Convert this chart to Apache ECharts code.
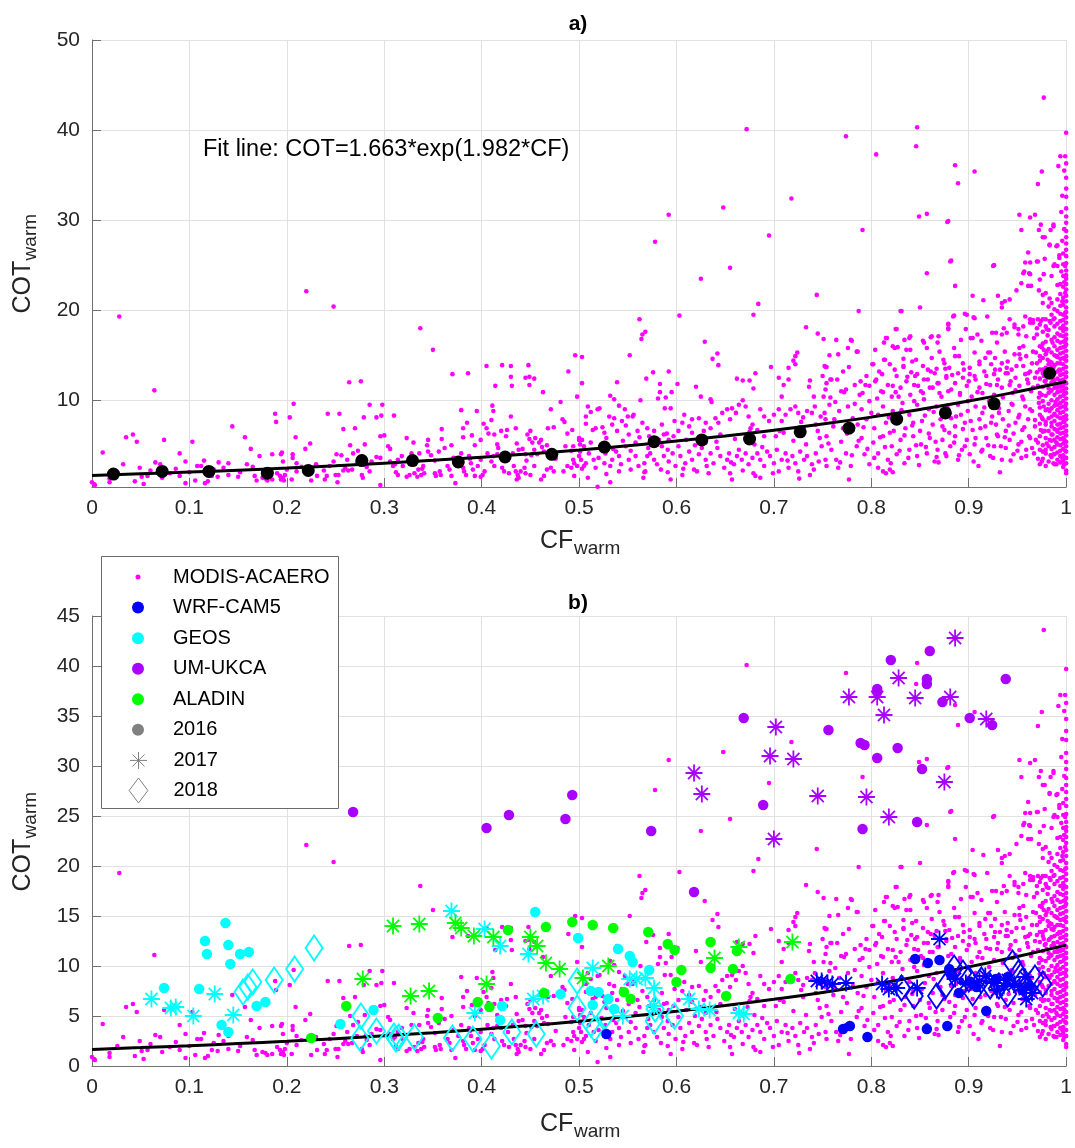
<!DOCTYPE html>
<html><head><meta charset="utf-8">
<script src="https://cdn.jsdelivr.net/npm/echarts@6/dist/echarts.min.js"></script>
<style>html,body{margin:0;padding:0;background:#fff}#c{width:1075px;height:1148px}</style>
</head><body><div id="c"></div>
<script>
// ---------- axis ticks ----------
const xTicks = [0,0.1,0.2,0.3,0.4,0.5,0.6,0.7,0.8,0.9,1];
const yTicksA = [10,20,30,40,50];
const yTicksB = [0,5,10,15,20,25,30,35,40,45];

// ---------- fit line (COT = 1.663*exp(1.982*CF)) ----------
const fitCF  = [0,0.05,0.1,0.15,0.2,0.25,0.3,0.35,0.4,0.45,0.5,0.55,0.6,0.65,0.7,0.75,0.8,0.85,0.9,0.95,1];
const fitCOT = [1.66,1.84,2.03,2.24,2.47,2.73,3.02,3.33,3.68,4.06,4.48,4.95,5.47,6.04,6.67,7.36,8.13,8.98,9.91,10.95,12.09];

// ---------- binned means (panel a) ----------
const binCF  = [0.022,0.072,0.12,0.18,0.222,0.277,0.329,0.376,0.424,0.472,0.526,0.577,0.626,0.675,0.727,0.777,0.826,0.876,0.926,0.983];
const binCOT = [1.8,2.1,2.1,1.9,2.2,3.3,3.3,3.15,3.7,4.0,4.8,5.4,5.6,5.7,6.5,6.9,7.9,8.6,9.6,13.0];

// ---------- MODIS-ACAERO points (CF, COT) ----------
const modisA = [[0.002,0.7],[0,0.9],[0.003,0.6],[0.011,4.2],[0.028,19.3],[0.032,2.9],[0.035,5.9],[0.042,6.2],[0.046,5.4],[0.044,1.0],[0.049,2.5],[0.053,0.7],[0.051,1.5],[0.057,1.6],[0.064,11.1],[0.065,3.1],[0.07,2.9],[0.074,5.6],[0.072,1.4],[0.086,2.4],[0.09,4.1],[0.096,3.2],[0.096,0.8],[0.09,1.6],[0.103,5.4],[0.106,1.1],[0.108,2.7],[0.112,2.7],[0.115,3.3],[0.116,0.8],[0.119,1.0],[0.123,1.6],[0.13,3.1],[0.129,1.5],[0.14,3.0],[0.14,1.7],[0.144,7.1],[0.15,1.5],[0.152,2.0],[0.157,5.9],[0.159,2.9],[0.163,4.6],[0.167,1.6],[0.169,1.1],[0.172,3.8],[0.175,1.4],[0.178,1.3],[0.18,1.1],[0.185,4.0],[0.185,1.2],[0.188,8.5],[0.189,7.6],[0.19,1.9],[0.194,4.0],[0.195,4.2],[0.196,3.2],[0.193,1.6],[0.196,1.4],[0.197,1.1],[0.194,1.2],[0.198,1.7],[0.2,2.3],[0.203,8.1],[0.206,4.0],[0.207,9.6],[0.209,5.9],[0.206,3.6],[0.21,3.0],[0.205,1.2],[0.21,2.1],[0.219,4.6],[0.22,22.1],[0.224,5.2],[0.225,1.1],[0.231,1.6],[0.238,2.2],[0.241,1.6],[0.239,1.2],[0.248,3.2],[0.25,1.7],[0.018,1.3],[0.026,2.0],[0.06,2.2],[0.08,1.9],[0.1,2.0],[0.125,2.3],[0.135,2.5],[0.165,2.6],[0.215,2.6],[0.23,2.9],[0.244,2.7],[0.018,0.9]];

const modisB = [[0.248,20.4],[0.337,18.0],[0.35,15.6],[0.276,12.1],[0.386,13.0],[0.421,13.9],[0.448,13.9],[0.449,12.6],[0.454,12.4],[0.431,11.6],[0.449,11.7],[0.463,10.9],[0.496,15.0],[0.503,14.8],[0.489,13.2],[0.503,11.9],[0.498,10.4],[0.254,8.5],[0.298,9.5],[0.292,8.1],[0.31,8.3],[0.27,6.9],[0.296,6.0],[0.3,6.1],[0.265,5.0],[0.251,4.0],[0.256,3.9],[0.28,5.1],[0.273,4.4],[0.268,4.1],[0.262,3.4],[0.26,2.5],[0.263,2.2],[0.258,2.2],[0.267,2.3],[0.253,1.7],[0.252,0.9],[0.277,1.7],[0.278,1.4],[0.285,2.1],[0.282,2.6],[0.281,3.0],[0.292,3.7],[0.296,3.6],[0.304,4.9],[0.306,4.6],[0.306,3.2],[0.309,2.7],[0.312,2.0],[0.314,1.7],[0.319,2.7],[0.323,5.8],[0.296,0.6],[0.323,1.5],[0.326,1.7],[0.331,1.9],[0.335,2.3],[0.334,1.5],[0.338,1.7],[0.341,1.9],[0.33,5.3],[0.336,4.1],[0.34,2.7],[0.339,2.4],[0.345,5.6],[0.344,5.0],[0.345,4.3],[0.348,3.9],[0.352,1.9],[0.353,1.6],[0.357,2.1],[0.358,1.7],[0.359,6.8],[0.359,5.7],[0.362,4.7],[0.369,5.0],[0.369,1.6],[0.373,0.8],[0.365,2.7],[0.367,2.3],[0.381,6.9],[0.381,5.9],[0.379,4.1],[0.381,2.5],[0.382,2.1],[0.384,1.7],[0.39,6.1],[0.393,5.0],[0.395,8.8],[0.387,3.8],[0.389,3.0],[0.391,2.3],[0.393,1.6],[0.396,2.7],[0.399,3.4],[0.399,5.6],[0.399,1.5],[0.401,1.7],[0.403,2.1],[0.402,7.4],[0.405,6.9],[0.41,7.8],[0.412,8.8],[0.411,9.4],[0.407,6.3],[0.413,6.2],[0.416,5.1],[0.42,6.6],[0.426,6.7],[0.425,6.0],[0.43,8.2],[0.435,6.9],[0.406,4.1],[0.416,4.0],[0.41,3.2],[0.413,2.7],[0.42,3.8],[0.421,2.5],[0.423,2.1],[0.427,3.4],[0.428,1.9],[0.433,2.7],[0.435,2.1],[0.437,1.7],[0.438,1.4],[0.436,1.2],[0.44,2.1],[0.444,2.5],[0.436,5.2],[0.438,4.5],[0.442,4.6],[0.445,4.0],[0.447,6.2],[0.449,5.7],[0.45,6.6],[0.452,5.3],[0.454,4.5],[0.455,5.8],[0.457,4.0],[0.459,5.3],[0.461,5.6],[0.462,4.8],[0.464,4.3],[0.467,5.0],[0.468,6.9],[0.474,7.0],[0.471,9.0],[0.481,9.8],[0.483,7.9],[0.485,7.6],[0.488,6.3],[0.493,6.7],[0.494,4.9],[0.5,5.8],[0.503,5.6],[0.501,5.1],[0.501,4.3],[0.498,2.7],[0.502,3.4],[0.495,3.0],[0.5,3.8],[0.445,1.9],[0.45,1.7],[0.454,2.7],[0.461,1.2],[0.464,1.6],[0.467,2.3],[0.471,2.5],[0.474,2.1],[0.484,2.1],[0.488,2.7],[0.492,2.5],[0.495,1.6],[0.503,2.4],[0.494,3.4],[0.318,3.8],[0.328,4.1],[0.314,3.4],[0.264,12.0],[0.37,12.9],[0.297,8.3],[0.285,9.5],[0.242,8.5],[0.279,8.1],[0.258,6.8],[0.379,8.9],[0.385,7.5],[0.405,13.8],[0.414,11.6],[0.43,13.8],[0.43,12.6],[0.445,12.5],[0.272,3.0],[0.287,3.2],[0.311,2.9],[0.352,3.3],[0.371,3.6],[0.388,3.5],[0.412,3.8],[0.432,4.1],[0.451,3.9],[0.468,4.2],[0.492,4.4],[0.356,4.3],[0.376,3.0],[0.417,4.7],[0.446,3.3],[0.476,3.5],[0.486,4.9]];

const modisC = [[0.684,20.7],[0.679,19.5],[0.603,19.4],[0.562,19.0],[0.565,17.3],[0.568,17.6],[0.564,16.8],[0.733,18.1],[0.745,17.4],[0.751,16.8],[0.629,16.5],[0.552,15.0],[0.642,15.2],[0.637,14.6],[0.643,13.9],[0.724,15.3],[0.722,14.9],[0.72,14.4],[0.722,14.0],[0.715,13.6],[0.705,12.5],[0.71,11.7],[0.715,12.3],[0.708,10.4],[0.681,13.0],[0.697,13.7],[0.662,12.4],[0.668,12.2],[0.675,12.2],[0.679,11.3],[0.576,13.1],[0.569,12.4],[0.592,13.2],[0.583,11.8],[0.583,10.9],[0.581,10.2],[0.589,10.3],[0.595,10.9],[0.601,11.8],[0.588,9.1],[0.594,9.1],[0.539,12.0],[0.563,10.0],[0.62,11.5],[0.625,10.4],[0.635,10.1],[0.636,9.8],[0.753,13.7],[0.751,10.4],[0.754,11.9],[0.753,11.2],[0.737,12.2],[0.736,11.5],[0.741,10.4],[0.742,9.3],
[0.672,40.1],[0.648,31.4],[0.592,30.6],[0.578,27.6],[0.695,28.3],[0.655,24.7],[0.625,23.5],[0.718,32.4],[0.744,21.7],
[0.509,9.3],[0.512,8.7],[0.519,9.0],[0.521,9.1],[0.532,10.5],[0.536,10.1],[0.541,9.4],[0.547,9.0],[0.531,8.2],[0.536,8.0],[0.544,7.7],[0.55,8.2],[0.555,8.2],[0.556,8.4],[0.507,8.2],[0.507,7.4],[0.514,6.7],[0.517,6.9],[0.524,7.0],[0.526,6.4],[0.534,7.3],[0.539,6.6],[0.548,7.2],[0.551,6.2],[0.56,6.6],[0.558,5.3],[0.565,7.5],[0.57,6.9],[0.572,6.0],[0.577,6.6],[0.585,7.3],[0.587,6.2],[0.592,5.6],[0.597,6.0],[0.602,6.6],[0.606,7.5],[0.608,8.4],[0.613,7.1],[0.616,7.9],[0.623,8.0],[0.63,7.5],[0.628,6.6],[0.635,6.9],[0.64,8.0],[0.643,7.5],[0.647,8.6],[0.652,9.0],[0.657,9.1],[0.661,8.6],[0.664,9.5],[0.668,10.0],[0.671,9.3],[0.674,8.2],[0.678,7.3],[0.683,6.7],[0.686,9.0],[0.69,8.2],[0.695,7.7],[0.7,8.4],[0.705,9.0],[0.708,7.7],[0.712,8.4],[0.717,9.0],[0.722,9.3],[0.725,8.6],[0.73,8.1],[0.734,8.8],[0.739,8.6],[0.743,7.3],[0.748,8.2],[0.753,7.9],
[0.5,5.6],[0.505,4.9],[0.51,4.1],[0.507,3.0],[0.505,2.7],[0.515,3.4],[0.517,2.5],[0.52,3.6],[0.526,3.0],[0.527,4.1],[0.532,2.7],[0.534,3.4],[0.538,4.3],[0.541,3.8],[0.543,2.9],[0.548,4.9],[0.551,3.4],[0.553,2.3],[0.558,3.8],[0.561,2.7],[0.567,3.0],[0.568,2.1],[0.57,3.8],[0.573,4.1],[0.577,3.4],[0.58,2.9],[0.584,2.3],[0.587,3.8],[0.591,4.5],[0.592,3.2],[0.596,4.1],[0.599,2.7],[0.602,4.9],[0.604,3.8],[0.606,1.7],[0.609,3.0],[0.613,4.3],[0.616,3.4],[0.618,2.3],[0.621,2.1],[0.623,4.0],[0.626,4.7],[0.63,3.4],[0.631,2.7],[0.635,4.1],[0.638,3.0],[0.642,4.7],[0.645,3.8],[0.649,2.5],[0.652,3.4],[0.654,4.1],[0.655,1.9],[0.657,1.2],[0.659,2.9],[0.662,3.8],[0.664,4.5],[0.667,3.4],[0.671,4.1],[0.674,2.9],[0.678,3.6],[0.679,1.9],[0.681,1.6],[0.686,1.4],[0.683,4.1],[0.686,3.4],[0.69,2.7],[0.693,4.3],[0.696,3.8],[0.7,3.0],[0.703,4.5],[0.705,2.1],[0.708,3.4],[0.712,4.1],[0.715,2.5],[0.719,3.8],[0.722,3.0],[0.725,2.1],[0.727,4.3],[0.731,3.4],[0.734,3.8],[0.737,1.7],[0.739,2.9],[0.743,4.1],[0.746,3.2],[0.749,4.9],[0.753,3.4],[0.754,2.7],[0.519,0.4],[0.532,0.9],[0.567,2.0],[0.591,2.0],
[0.512,5.3],[0.528,5.8],[0.545,5.5],[0.562,5.9],[0.575,5.2],[0.59,6.3],[0.61,5.6],[0.625,5.9],[0.645,6.2],[0.66,5.7],[0.675,6.5],[0.69,6.0],[0.71,6.4],[0.73,6.9],[0.745,6.6],[0.535,4.6],[0.585,4.9],[0.63,5.3],[0.68,5.1],[0.72,5.5],
[0.553,4.4],[0.566,1.4],[0.582,5.6],[0.594,1.2],[0.607,2.4],[0.619,5.0],[0.633,1.9],[0.641,5.4],[0.656,3.1],[0.668,2.2],[0.673,5.9],[0.688,4.8],[0.699,1.9],[0.702,6.0],[0.714,3.3],[0.726,1.3],[0.733,5.1],[0.741,2.3],[0.747,5.8],[0.616,6.4],[0.598,7.7],[0.655,7.9],[0.676,6.9],[0.706,6.6],[0.728,7.6],[0.571,4.7],[0.528,1.8],[0.541,2.1],[0.509,1.4],[0.523,4.8]];

const modisD = [[0.977,43.6],[1.0,39.7],[0.994,37.1],[0.999,37.1],[1.0,36.3],[0.992,36.0],[0.975,35.4],[1.0,34.7],[0.971,34.0],[0.996,32.7],[0.774,39.3],[0.847,40.3],[0.846,38.2],[0.805,37.3],[0.886,36.1],[0.906,35.4],[0.889,34.1],[0.849,30.4],[0.857,30.7],[0.791,28.9],[0.878,29.8],[0.952,30.6],[0.954,28.9],[0.963,30.3],[0.968,30.6],[0.974,29.5],[0.972,28.9],[0.984,28.9],[0.987,29.3],[1.0,29.7],[1.0,28.8],[0.978,28.1],[0.983,27.2],[0.991,27.2],[0.961,26.4],[0.971,25.4],[0.978,25.7],[0.993,25.8],[1.0,26.7],[1.0,27.4],[1.0,28.1],[0.881,25.4],[0.925,24.9],[0.958,25.3],[0.963,25.3],[0.857,24.1],[0.957,24.3],[0.962,24.1],[0.987,24.9],[0.991,24.9],[0.977,24.0],[0.985,23.8],[0.995,24.3],[1.0,23.9],
[0.879,29.9],[0.882,25.5],[0.886,22.7],[0.926,25.0],[0.97,25.4],[0.976,28.1],[0.987,29.5],[0.983,27.3],[0.99,27.1],[0.993,26.1],[0.997,25.1],[0.988,25.1],[0.964,22.7],[0.973,23.4],[0.949,22.2],[0.942,21.2],[0.937,21.0],[0.93,21.6],[0.915,21.1],[0.904,21.6],[0.934,20.3],
[0.934,20.8],[0.954,23.0],[0.961,22.7],[0.963,24.0],[0.956,24.1],[0.972,22.2],[0.976,21.7],[0.983,21.3],[0.985,20.8],[0.85,20.3],[0.83,19.9],[0.764,16.7],[0.78,16.6],[0.825,17.9],[0.816,16.9],[0.813,16.4],[0.827,15.9],[0.804,15.6],[0.834,16.7],[0.84,17.1],[0.854,16.4],[0.861,17.0],[0.869,17.1],[0.879,18.4],[0.879,17.9],[0.885,19.4],[0.896,19.6],[0.905,19.2],[0.897,17.9],[0.904,16.9],[0.913,16.6],[0.924,17.5],[0.929,16.4],[0.936,18.0],[0.942,19.0],[0.947,18.4],[0.951,17.3],[0.958,19.3],[0.963,18.6],[0.966,18.9],[0.97,18.0],[0.974,18.8],[0.979,19.0],[0.984,18.6],
[0.754,13.7],[0.758,12.3],[0.765,12.3],[0.769,11.0],[0.758,10.3],[0.777,13.7],[0.786,15.4],[0.794,11.7],[0.802,14.0],[0.791,10.8],[0.804,12.1],[0.808,13.2],[0.813,14.5],[0.819,14.0],[0.824,13.4],[0.812,10.9],[0.822,11.6],[0.828,10.4],[0.833,13.7],[0.833,14.6],[0.84,15.6],[0.842,14.3],[0.844,11.7],[0.847,12.9],[0.854,12.3],[0.851,11.0],[0.858,13.4],[0.86,11.4],[0.865,13.0],[0.869,11.9],[0.874,14.5],[0.876,13.5],[0.877,12.5],[0.879,11.0],[0.885,15.8],[0.89,14.9],[0.895,13.4],[0.901,12.9],[0.906,12.7],[0.911,14.0],[0.917,14.7],[0.922,15.3],[0.927,13.4],[0.929,11.7],[0.934,14.1],[0.94,13.0],[0.943,12.1],[0.949,13.8],[0.952,15.1],[0.956,16.0],[0.961,13.0],[0.965,14.1],[0.969,15.3],[0.973,13.4],[0.977,15.6],[0.981,14.5],[0.983,12.7],[0.986,16.4],[0.99,14.9],[0.993,13.4],[0.995,11.6],[0.999,16.0],
[0.787,19.9],[0.831,19.9],[0.826,17.9],[0.879,18.5],[0.884,19.3],[0.898,19.5],[0.906,19.1],[0.919,19.3],[0.928,17.5],[0.934,17.3],[0.939,17.5],[0.947,18.1],[0.951,17.9],[0.956,18.2],[0.963,19.0],[0.966,18.6],[0.971,19.0],[0.976,19.0],[0.98,17.9],[0.983,18.8],[0.987,19.0],[0.97,17.3],[0.959,17.1],[0.879,18.0],[0.892,16.7],[0.902,16.9],[0.909,17.3],[0.853,16.6],[0.862,17.1],[0.868,16.4],[0.839,16.9],[0.822,16.0],[0.815,16.9],[0.779,16.7],[0.776,15.8],[0.785,15.4],[0.757,15.0],
[0.752,13.8],[0.766,15.1],[0.795,12.7],[0.801,14.0],[0.814,14.5],[0.824,15.8],[0.833,13.8],[0.836,15.6],[0.841,13.1],[0.846,14.5],[0.853,13.8],[0.857,15.8],[0.862,14.7],[0.867,13.5],[0.87,15.4],[0.875,14.1],[0.88,13.6],[0.886,14.9],[0.889,13.0],[0.894,14.1],[0.901,13.6],[0.906,15.3],[0.911,14.3],[0.916,13.2],[0.92,15.3],[0.923,14.0],[0.927,14.7],[0.932,13.4],[0.937,15.4],[0.94,14.3],[0.944,13.4],[0.947,15.1],[0.952,15.8],[0.956,13.8],[0.959,14.9],[0.963,13.2],[0.966,15.4],[0.97,14.1],[0.973,14.9],[0.976,13.4],[0.98,15.4],[0.983,14.3],[0.987,13.6],[0.99,14.9],
[0.75,12.7],[0.759,12.3],[0.771,13.2],[0.774,11.2],[0.783,11.7],[0.788,10.6],[0.798,11.6],[0.805,12.3],[0.81,11.0],[0.817,11.7],[0.821,10.4],[0.826,12.7],[0.83,11.4],[0.836,12.1],[0.84,10.6],[0.845,12.7],[0.848,11.6],[0.853,10.8],[0.858,12.3],[0.863,11.4],[0.868,11.9],[0.872,10.4],[0.877,12.7],[0.882,11.2],[0.886,11.9],[0.891,10.8],[0.894,12.5],[0.898,11.6],[0.903,10.4],[0.907,12.3],[0.911,11.4],[0.914,10.8],[0.918,12.7],[0.922,11.7],[0.926,10.6],[0.93,12.3],[0.934,11.4],[0.938,13.0],[0.942,11.7],[0.945,10.8],[0.948,12.5],[0.952,11.6],[0.955,10.4],[0.958,12.9],[0.961,11.9],[0.964,11.0],[0.968,12.5],[0.971,11.6],[0.975,10.6],[0.977,12.7],[0.98,11.7],[0.984,11.0],[0.987,12.3],[0.991,11.4],
[0.752,8.6],[0.757,9.5],[0.762,7.9],[0.767,8.8],[0.771,6.9],[0.776,9.3],[0.781,8.0],[0.786,7.3],[0.79,9.0],[0.795,7.9],[0.798,9.9],[0.803,6.9],[0.807,8.4],[0.812,9.3],[0.815,7.5],[0.819,6.4],[0.822,8.8],[0.827,7.9],[0.832,9.7],[0.835,6.9],[0.839,8.4],[0.843,7.5],[0.847,9.5],[0.85,6.6],[0.855,8.3],[0.859,9.0],[0.863,7.3],[0.867,9.3],[0.871,7.9],[0.875,6.7],[0.879,9.0],[0.882,8.0],[0.886,7.1],[0.889,9.5],[0.892,8.4],[0.896,7.5],[0.899,8.8],[0.904,6.7],[0.907,9.3],[0.911,7.9],[0.914,8.6],[0.917,7.1],[0.921,9.9],[0.924,8.2],[0.928,7.3],[0.931,9.1],[0.935,7.9],[0.938,6.6],[0.941,8.8],[0.945,9.5],[0.948,7.5],[0.952,8.4],[0.955,6.7],[0.958,9.3],[0.961,7.9],[0.965,8.8],[0.968,7.1],[0.972,9.7],[0.975,8.1],[0.978,6.6],[0.981,9.0],[0.985,7.5],[0.988,8.4],[0.991,6.7],
[0.754,6.0],[0.759,4.5],[0.764,3.4],[0.769,5.4],[0.774,4.1],[0.779,2.7],[0.785,4.9],[0.79,5.8],[0.793,4.0],[0.798,2.9],[0.802,5.3],[0.807,4.1],[0.812,6.0],[0.817,3.4],[0.821,4.9],[0.826,4.0],[0.83,5.6],[0.834,3.0],[0.839,4.5],[0.843,6.0],[0.847,3.8],[0.851,5.1],[0.857,4.1],[0.86,5.8],[0.865,3.2],[0.868,4.5],[0.873,5.6],[0.877,3.8],[0.881,4.9],[0.886,6.0],[0.889,3.4],[0.893,4.5],[0.898,5.6],[0.901,4.0],[0.906,5.1],[0.91,2.7],[0.914,4.5],[0.918,5.8],[0.922,3.8],[0.926,4.9],[0.93,6.0],[0.934,3.4],[0.938,4.7],[0.942,5.6],[0.946,4.0],[0.951,5.1],[0.954,3.6],[0.959,4.5],[0.963,5.8],[0.967,4.1],[0.971,5.3],[0.975,3.2],[0.979,4.5],[0.983,5.6],[0.987,4.0],[0.99,2.9],
[0.766,2.5],[0.807,2.5],[0.812,2.1],[0.815,1.9],[0.822,2.0],[0.777,1.2],[0.932,2.0],[0.819,2.3],[0.867,3.7],[0.997,3.8],[0.987,3.0]];

const modisE = [[0.756,5.2],[0.761,7.1],[0.763,9.8],[0.768,3.1],[0.772,10.9],[0.775,6.3],[0.78,3.9],[0.783,9.6],[0.787,5.5],[0.789,12.1],[0.792,7.0],[0.796,4.6],[0.8,8.6],[0.803,3.6],[0.806,10.2],[0.809,5.9],[0.811,12.9],[0.814,4.8],[0.818,8.1],[0.82,3.0],[0.823,6.6],[0.825,10.9],[0.829,4.4],[0.831,8.9],[0.834,6.1],[0.837,12.6],[0.838,3.6],[0.842,7.2],[0.844,9.9],[0.846,5.0],[0.849,2.8],[0.852,7.7],[0.854,10.1],[0.856,4.8],[0.859,6.3],[0.861,13.2],[0.864,8.7],[0.866,5.4],[0.869,3.1],[0.87,10.8],[0.873,7.1],[0.876,4.1],[0.878,9.4],[0.88,6.4],[0.883,12.8],[0.885,5.3],[0.887,8.2],[0.89,3.9],[0.891,10.6],[0.894,6.8],[0.896,4.9],[0.899,9.9],[0.9,12.1],[0.902,7.7],[0.905,3.2],[0.907,5.8],[0.909,10.9],[0.912,6.9],[0.913,4.3],[0.916,9.2],[0.918,11.8],[0.92,5.0],[0.923,7.5],[0.925,3.6],[0.926,12.9],[0.929,6.2],[0.931,8.6],[0.933,4.9],[0.935,10.3],[0.937,5.9],[0.939,13.6],[0.941,7.2],[0.943,3.3],[0.944,9.6],[0.946,6.3],[0.948,11.1],[0.95,4.4],[0.951,8.1],[0.953,14.6],[0.954,5.4],[0.956,10.1],[0.957,7.0],[0.959,3.8],[0.96,12.3],[0.962,6.0],[0.963,9.0],[0.965,4.7],[0.966,11.4],[0.967,16.9],[0.968,7.8],[0.969,5.6],[0.97,13.1],[0.971,3.5],[0.972,10.3],[0.973,8.4],[0.974,6.7],[0.975,15.9],[0.976,4.3],[0.977,9.3],[0.978,12.1],[0.979,7.3],[0.98,5.2],[0.981,17.2],[0.982,10.8],[0.983,8.8],[0.984,3.9],[0.985,13.7],[0.986,6.2],[0.987,11.9],[0.988,19.1],[0.989,9.8],[0.99,5.3]];

// dense column at CF close to 1
const modisEdge = [[1.0,2.2],[1.0,3.0],[1.0,3.6],[1.0,4.3],[1.0,4.9],[1.0,5.4],[1.0,6.1],[1.0,6.6],[1.0,7.2],[1.0,7.9],[1.0,8.3],[1.0,9.0],[1.0,9.6],[1.0,10.2],[1.0,10.8],[1.0,11.3],[1.0,11.9],[1.0,12.6],[1.0,13.1],[1.0,13.7],[1.0,14.4],[1.0,14.9],[1.0,15.5],[1.0,16.2],[1.0,16.8],[1.0,17.3],[1.0,17.9],[1.0,18.6],[1.0,19.2],[1.0,19.8],[1.0,20.3],[1.0,21.0],[1.0,21.6],[1.0,22.3],[1.0,22.9],[1.0,23.5],[1.0,24.4],[1.0,25.2],[1.0,26.0],[1.0,31.3],[1.0,32.6],[1.0,30.4],[1.0,33.5],[1.0,1.9],
[0.998,29.0],[0.996,27.7],[0.999,24.9],[0.995,30.9],[0.998,35.5],[0.999,21.9],[0.996,21.0],[0.998,18.0],[0.999,12.0],[0.998,7.6],[0.999,4.4],[0.998,2.9],[0.996,3.6],[0.998,14.6],[0.999,9.3],[0.998,5.6],[0.999,16.6],[0.998,23.1],[0.999,19.7],[0.998,10.7],
[0.997,2.6],[0.997,3.3],[0.997,3.9],[0.997,4.6],[0.997,5.2],[0.997,5.8],[0.997,6.4],[0.997,7.0],[0.997,7.6],[0.997,8.1],[0.997,8.7],[0.997,9.3],[0.997,9.9],[0.997,10.5],[0.997,11.1],[0.997,11.6],[0.997,12.3],[0.997,12.9],[0.997,13.5],[0.997,14.0],[0.997,14.7],[0.997,15.3],[0.997,15.9],[0.997,16.5],[0.997,17.1],[0.997,17.7],[0.997,18.3],[0.997,18.9],[0.997,19.5],[0.997,20.6],[0.997,21.4],[0.997,22.6],[0.997,23.8],[0.997,26.3],
[0.994,3.1],[0.994,3.8],[0.994,4.4],[0.994,5.0],[0.994,5.7],[0.994,6.3],[0.994,6.9],[0.994,7.4],[0.994,8.0],[0.994,8.6],[0.994,9.2],[0.994,9.7],[0.994,10.4],[0.994,11.0],[0.994,11.5],[0.994,12.2],[0.994,12.8],[0.994,13.3],[0.994,14.1],[0.994,14.6],[0.994,15.2],[0.994,15.8],[0.994,16.4],[0.994,17.2],[0.994,18.0],[0.994,18.8],[0.994,19.6],[0.994,20.5],[0.994,21.8],[0.994,22.9],
[0.991,3.4],[0.991,4.2],[0.991,5.1],[0.991,5.9],[0.991,6.5],[0.991,7.3],[0.991,8.2],[0.991,8.9],[0.991,9.5],[0.991,10.1],[0.991,10.9],[0.991,11.7],[0.991,12.4],[0.991,13.2],[0.991,14.1],[0.991,14.8],[0.991,15.6],[0.991,16.6],[0.991,17.4],[0.991,18.5],[0.991,19.9],[0.991,21.2],[0.991,22.8],
[0.988,2.9],[0.988,4.0],[0.988,4.8],[0.988,5.6],[0.988,6.8],[0.988,7.7],[0.988,8.5],[0.988,9.4],[0.988,10.6],[0.988,11.4],[0.988,12.0],[0.988,13.0],[0.988,13.9],[0.988,15.0],[0.988,16.0],[0.988,17.0],[0.988,18.2],[0.988,20.1],
[0.985,3.7],[0.985,4.6],[0.985,5.5],[0.985,6.2],[0.985,7.1],[0.985,8.2],[0.985,9.1],[0.985,10.0],[0.985,11.1],[0.985,12.0],[0.985,12.9],[0.985,14.2],[0.985,15.3],[0.985,16.7],[0.985,19.5],
[0.982,3.2],[0.982,4.9],[0.982,6.6],[0.982,8.0],[0.982,9.6],[0.982,11.3],[0.982,12.6],[0.982,14.0],[0.982,15.7],[0.982,17.8],[0.982,20.4],
[0.979,2.7],[0.979,4.1],[0.979,5.8],[0.979,7.6],[0.979,8.9],[0.979,10.5],[0.979,12.2],[0.979,13.6],[0.979,15.1],[0.979,16.5],[0.979,18.2],[0.979,21.9],
[0.976,3.5],[0.976,5.0],[0.976,6.5],[0.976,7.9],[0.976,9.9],[0.976,11.5],[0.976,13.0],[0.976,14.7],[0.976,16.3],[0.976,17.6],[0.976,20.8],
[0.973,2.9],[0.973,4.5],[0.973,6.0],[0.973,7.4],[0.973,9.2],[0.973,10.8],[0.973,12.4],[0.973,14.4],[0.973,16.0],[0.973,18.4]];

// ---------- model points (panel b) ----------
const wrf2016 = [[0.528,3.2],[0.771,3.7],[0.778,4.0],[0.796,2.9],[0.845,10.7],[0.858,10.3],[0.87,10.6],[0.857,3.7],[0.878,4.0],[0.918,5.5],[0.89,7.3],[0.88,9.7],[0.883,9.1],[0.902,8.4],[0.94,8.9],[0.955,7.6],[0.908,7.9],[0.928,8.7],[0.962,8.0]];
const wrf2017 = [[0.744,8.5],[0.749,8.5],[0.755,8.3],[0.76,8.2],[0.774,8.3],[0.811,8.2],[0.818,7.7],[0.826,7.8],[0.847,7.8],[0.87,12.7],[0.886,8.7],[0.897,8.3],[0.911,8.5],[0.926,8.3],[0.936,8.0],[0.947,8.2],[0.959,6.7],[0.965,7.3],[0.94,8.6],[0.952,7.9],[0.958,8.9],[0.929,7.6],[0.917,9.0]];
const wrf2018 = [[0.831,7.8],[0.844,7.0],[0.867,7.0],[0.885,9.8],[0.894,9.3],[0.904,7.3],[0.922,8.0],[0.931,8.0],[0.945,10.3],[0.951,9.3],[0.961,7.7],[0.976,8.2],[0.968,8.8],[0.876,8.0],[0.9,8.7],[0.955,8.5],[0.94,7.2],[0.913,8.6]];
const geos2016 = [[0.137,14.3],[0.116,12.5],[0.118,11.2],[0.14,12.1],[0.142,10.2],[0.152,11.2],[0.161,11.4],[0.074,7.8],[0.11,7.7],[0.169,6.0],[0.178,6.4],[0.133,4.1],[0.14,3.4],[0.255,4.2],[0.289,5.6],[0.421,6.0],[0.419,4.6],[0.455,15.4],[0.499,12.8],[0.54,11.7],[0.552,11.0],[0.555,10.4],[0.572,9.6],[0.481,7.2],[0.512,7.5],[0.52,7.4],[0.53,6.7],[0.514,6.1],[0.536,5.7]];
const geos2017 = [[0.061,6.7],[0.081,5.8],[0.086,5.9],[0.104,5.0],[0.126,7.2],[0.145,5.1],[0.369,15.5],[0.393,5.3],[0.403,13.7],[0.419,12.0],[0.448,11.2],[0.453,6.7],[0.463,7.0],[0.514,9.8],[0.552,8.7],[0.559,8.7],[0.568,8.8],[0.577,7.8],[0.545,5.0],[0.577,6.0],[0.613,6.7],[0.623,5.7],[0.634,5.6],[0.664,5.3],[0.669,5.2]];
const geos2018 = [[0.155,7.4],[0.16,7.9],[0.165,8.4],[0.187,8.6],[0.208,9.7],[0.228,11.8],[0.276,5.0],[0.275,2.8],[0.292,3.5],[0.31,3.0],[0.312,2.7],[0.315,2.9],[0.331,2.9],[0.37,2.8],[0.391,2.7],[0.41,2.0],[0.431,3.4],[0.456,3.2],[0.498,8.5],[0.498,5.8],[0.512,4.2],[0.516,3.7],[0.527,5.0],[0.577,4.5],[0.578,5.7],[0.598,5.0]];
const um2016 = [[0.268,25.4],[0.405,23.8],[0.428,25.1],[0.486,24.7],[0.493,27.1],[0.574,23.5],[0.689,26.1],[0.791,23.7],[0.847,24.4],[0.618,17.4],[0.669,34.8],[0.756,33.6],[0.789,32.3],[0.793,32.1],[0.806,30.8],[0.827,31.8],[0.82,40.6],[0.806,37.7],[0.806,37.4],[0.86,41.5],[0.857,38.7],[0.857,38.2],[0.873,36.4],[0.938,38.7],[0.901,34.8],[0.924,34.1],[0.852,29.7]];
const um2017 = [[0.618,29.3],[0.626,27.2],[0.702,33.9],[0.696,31.0],[0.72,30.7],[0.745,27.0],[0.777,36.9],[0.806,36.9],[0.813,35.1],[0.828,38.8],[0.845,36.8],[0.881,36.9],[0.886,42.8],[0.918,34.7],[0.875,28.4],[0.795,26.9],[0.818,24.9],[0.7,22.7]];
const aladin2016 = [[0.225,2.8],[0.261,6.0],[0.355,4.8],[0.396,6.4],[0.408,5.9],[0.427,13.6],[0.493,14.4],[0.514,14.1],[0.535,13.8],[0.466,13.9],[0.571,13.4],[0.591,12.2],[0.598,11.6],[0.635,12.4],[0.662,11.5],[0.605,9.6],[0.635,9.8],[0.658,9.7],[0.6,8.4],[0.546,7.4],[0.553,6.7],[0.651,7.0],[0.717,8.7],[0.464,7.3]];
const aladin2017 = [[0.278,8.7],[0.309,14.0],[0.336,14.2],[0.327,7.0],[0.346,7.5],[0.373,14.3],[0.379,13.8],[0.392,13.0],[0.412,12.9],[0.405,8.2],[0.45,12.9],[0.457,12.0],[0.466,10.3],[0.48,9.7],[0.504,8.8],[0.53,10.0],[0.639,10.8],[0.664,11.9],[0.719,12.4]];

// ---------- labels ----------
const legendNames = ['MODIS-ACAERO','WRF-CAM5','GEOS','UM-UKCA','ALADIN','2016','2017','2018'];
const fitText = 'Fit line: COT=1.663*exp(1.982*CF)';

// ---------- build ----------
const FONT = '"Liberation Sans", Arial, Helvetica, sans-serif';
const C = {modis:'#ff00ff', wrf:'#0000ff', geos:'#00ffff', um:'#aa00ff', aladin:'#00ff00', gray:'#808080'};
const ASTER = 'path://M0,-8L0,8M-8,0L8,0M-5.66,-5.66L5.66,5.66M-5.66,5.66L5.66,-5.66';
const DIAM = 'path://M0,-4L3,0L0,4L-3,0Z';
const AXC = '#707070', GRIDC = '#e1e1e1', TXT = '#262626';
const modisAll = [].concat(modisA, modisB, modisC, modisD, modisE, modisEdge);
const zip = (a,b) => a.map((v,i)=>[v,b[i]]);

function xAx(gi){ return {gridIndex:gi,type:'value',min:0,max:1,interval:0.1,
  axisLine:{show:true,onZero:false,lineStyle:{color:AXC,width:1}},
  axisTick:{show:true,inside:true,length:9,lineStyle:{color:AXC}},
  axisLabel:{fontSize:21,color:TXT,fontFamily:FONT,margin:11,formatter:v=>String(Math.round(v*10)/10)},
  splitLine:{show:true,lineStyle:{color:GRIDC,width:1}}}; }
function yAxBase(gi){ return {gridIndex:gi,type:'value',
  axisLine:{show:true,onZero:false,lineStyle:{color:AXC,width:1}},
  axisTick:{show:true,inside:true,length:9,lineStyle:{color:AXC}},
  axisLabel:{fontSize:21,color:TXT,fontFamily:FONT,margin:12},
  splitLine:{show:true,lineStyle:{color:GRIDC,width:1}}}; }
const yA = yAxBase(0); yA.min = 0.37; yA.max = 50;
yA.axisTick.customValues = yTicksA; yA.axisLabel.customValues = yTicksA;
const yB = yAxBase(1); yB.min = 0; yB.max = 45; yB.interval = 5;

function sc(name, data, gi, symbol, size, color, stroke, z){
  const s = {type:'scatter', name, data, xAxisIndex:gi, yAxisIndex:gi, symbol, symbolSize:size, z: z||2, silent:true};
  if (stroke) s.itemStyle = {color:'rgba(0,0,0,0)', borderColor:color, borderWidth:stroke, opacity:1};
  else s.itemStyle = {color, opacity:1};
  return s;
}
const fitData = zip(fitCF, fitCOT);
const series = [
  sc('MODIS-ACAERO', modisAll, 0, 'circle', 4.6, C.modis),
  {type:'line', name:'fitA', data:fitData, xAxisIndex:0, yAxisIndex:0, showSymbol:false, smooth:true, lineStyle:{color:'#000',width:3}, z:3, silent:true},
  sc('bins', zip(binCF, binCOT), 0, 'circle', 13, '#000', 0, 4),
  sc('MODIS-ACAERO', modisAll, 1, 'circle', 4.6, C.modis),
  {type:'line', name:'fitB', data:fitData, xAxisIndex:1, yAxisIndex:1, showSymbol:false, smooth:true, lineStyle:{color:'#000',width:3}, z:3, silent:true},
  sc('GEOS', geos2016, 1, 'circle', 10.5, C.geos, 0, 4),
  sc('GEOS 2017', geos2017, 1, ASTER, 17, C.geos, 1.8, 4),
  sc('GEOS 2018', geos2018, 1, DIAM, [17,25], C.geos, 2, 4),
  sc('ALADIN', aladin2016, 1, 'circle', 10.5, C.aladin, 0, 4),
  sc('ALADIN 2017', aladin2017, 1, ASTER, 17, C.aladin, 1.8, 4),
  sc('UM-UKCA', um2016, 1, 'circle', 10.5, C.um, 0, 4),
  sc('UM-UKCA 2017', um2017, 1, ASTER, 17, C.um, 1.8, 4),
  sc('WRF-CAM5', wrf2016, 1, 'circle', 10.5, C.wrf, 0, 4),
  sc('WRF-CAM5 2017', wrf2017, 1, ASTER, 17, C.wrf, 1.8, 4),
  sc('WRF-CAM5 2018', wrf2018, 1, DIAM, [17,25], C.wrf, 2, 4),
  sc('2016', [], 1, 'circle', 10, C.gray),
  sc('2017', [], 1, ASTER, 17, C.gray, 1),
  sc('2018', [], 1, DIAM, [17,25], C.gray, 1)
];

// legend: one component per row
const rowTop = 576, rowStep = 30.57, symX = 138;
const legIcons = [
  {icon:'circle', h:5, w:5, st:{color:C.modis, opacity:1}},
  {icon:'circle', h:12, w:12, st:{color:C.wrf, opacity:1}},
  {icon:'circle', h:12, w:12, st:{color:C.geos, opacity:1}},
  {icon:'circle', h:12, w:12, st:{color:C.um, opacity:1}},
  {icon:'circle', h:12, w:12, st:{color:C.aladin, opacity:1}},
  {icon:'circle', h:12, w:12, st:{color:C.gray, opacity:1}},
  {icon:ASTER, h:17, w:17, st:{color:'rgba(0,0,0,0)', borderColor:C.gray, borderWidth:1, opacity:1}},
  {icon:DIAM, h:25, w:18.75, st:{color:'rgba(0,0,0,0)', borderColor:C.gray, borderWidth:1, opacity:1}}
];
const legends = legendNames.map((n,i)=>{
  const L = legIcons[i]; const cy = rowTop + i*rowStep;
  return {show:true, orient:'vertical', left: symX - L.w/2, top: cy - Math.max(L.h, 18)/2, padding:0, itemWidth:60, itemHeight:L.h,
    selectedMode:false, z:10,
    textStyle:{fontSize:20, color:'#000', fontFamily:FONT},
    data:[{name:n, icon:L.icon, itemStyle:L.st}]};
});

function subTitle(x, y, main, sub, rot){
  return {type:'group', x, y, rotation: rot||0, z:10, children:[
    {type:'text', x:-(main.length>2?49.6:40), y:0, style:{text:main, font:'25px '+FONT, fill:TXT, align:'left', verticalAlign:'middle'}},
    {type:'text', x:(main.length>2?3.6:-6), y:8, style:{text:sub, font:'19px '+FONT, fill:TXT, align:'left', verticalAlign:'middle'}}
  ]};
}

const option = {
  animation:false, backgroundColor:'#fff',
  grid:[{left:92,right:7,top:40,height:447},{left:92,right:7,top:616,height:450}],
  xAxis:[xAx(0), xAx(1)],
  yAxis:[yA, yB],
  legend: legends,
  series,
  graphic:[
    {type:'rect', shape:{x:101.5,y:556.5,width:237,height:252}, style:{fill:'#fff', stroke:'#6a6a6a', lineWidth:1}, z:5},
    {type:'text', x:578, y:24, z:10, style:{text:'a)', font:'bold 21px '+FONT, fill:'#000', align:'center', verticalAlign:'middle'}},
    {type:'text', x:578, y:603, z:10, style:{text:'b)', font:'bold 21px '+FONT, fill:'#000', align:'center', verticalAlign:'middle'}},
    {type:'text', x:203, y:150, z:10, style:{text:fitText, font:'23.5px '+FONT, fill:'#000', align:'left', verticalAlign:'middle'}},
    subTitle(23, 264, 'COT', 'warm', Math.PI/2),
    subTitle(23, 842, 'COT', 'warm', Math.PI/2),
    subTitle(580, 541, 'CF', 'warm', 0),
    subTitle(580, 1124, 'CF', 'warm', 0)
  ]
};
const chart = echarts.init(document.getElementById('c'), null, {renderer:'canvas', width:1075, height:1148});
chart.setOption(option);
</script>
</body></html>
